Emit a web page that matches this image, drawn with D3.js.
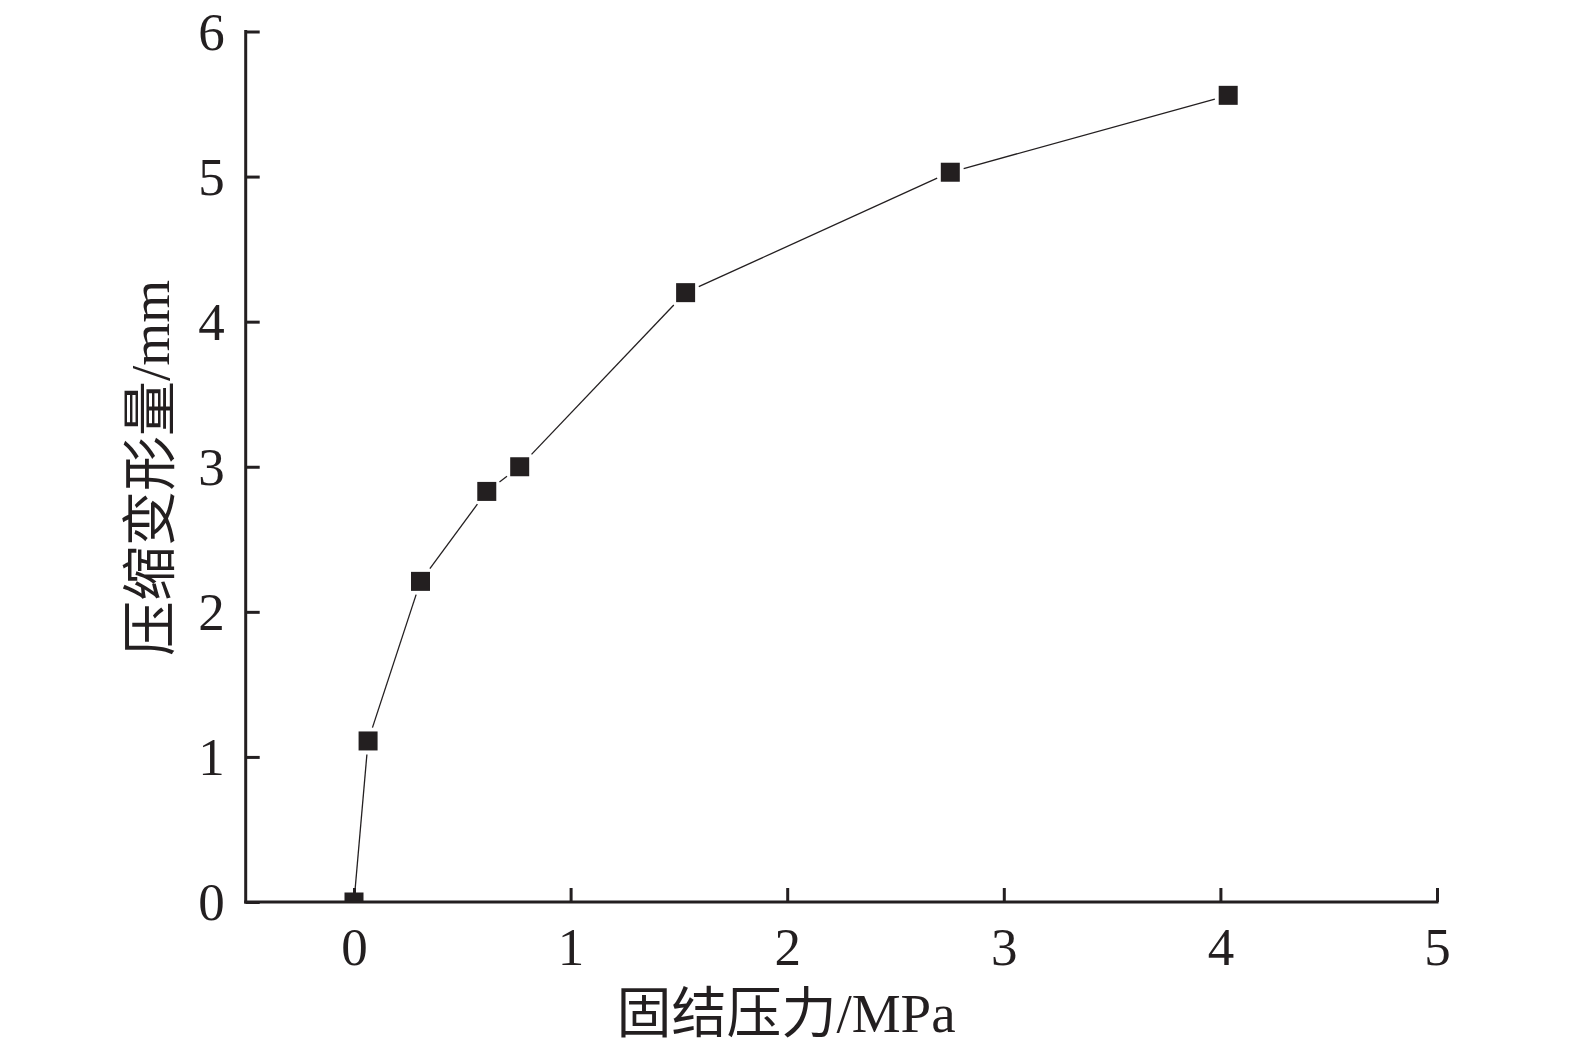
<!DOCTYPE html>
<html><head><meta charset="utf-8">
<script src="https://cdn.jsdelivr.net/npm/d3@7/dist/d3.min.js"></script>
<style>
html,body{margin:0;padding:0;background:#fff;}
svg{display:block;}
text{font-family:"Liberation Serif","Times New Roman","Noto Sans CJK SC",serif;fill:#231f20;}
</style></head>
<body>
<svg id="chart" width="1575" height="1050"></svg>
<script>
const pressure = [0, 0.065, 0.307, 0.613, 0.765, 1.531, 2.753, 4.036];
const deformation = [0, 1.11, 2.21, 2.83, 3.0, 4.2, 5.03, 5.56];
const xTicks = [0, 1, 2, 3, 4, 5];
const yTicks = [0, 1, 2, 3, 4, 5, 6];
const xTitle = "固结压力/MPa";
const yTitle = "压缩变形量/mm";

const ink = "#231f20";
const svg = d3.select("#chart");
const x = d3.scaleLinear().domain([-0.5, 5]).range([245.7, 1437]);
const y = d3.scaleLinear().domain([0, 6]).range([902, 31.5]);

// clip for plot area
svg.append("defs").append("clipPath").attr("id","plot")
  .append("rect").attr("x", x(-0.5)).attr("y", 0)
  .attr("width", x(5) - x(-0.5) + 20).attr("height", y(0));

const pts = pressure.map((p,i)=>({x:x(p), y:y(deformation[i])}));
const half = 9.5, gap = 4;
const g = svg.append("g").attr("clip-path","url(#plot)");
for (let i=0;i<pts.length-1;i++){
  const a=pts[i], b=pts[i+1];
  const dx=b.x-a.x, dy=b.y-a.y, L=Math.hypot(dx,dy);
  const ux=dx/L, uy=dy/L;
  const t = half/Math.max(Math.abs(ux),Math.abs(uy)) + gap;
  g.append("line")
    .attr("x1", a.x+ux*t).attr("y1", a.y+uy*t)
    .attr("x2", b.x-ux*t).attr("y2", b.y-uy*t)
    .attr("stroke", ink).attr("stroke-width", 1.3);
}
g.selectAll("rect.m").data(pts).enter().append("rect")
  .attr("class","m")
  .attr("x", d=>d.x-half).attr("y", d=>d.y-half)
  .attr("width", half*2).attr("height", half*2)
  .attr("fill", ink);

// axes
const xAxis = d3.axisBottom(x).tickValues(xTicks).tickSizeInner(-14).tickSizeOuter(0).tickFormat(d3.format("d"));
const yAxis = d3.axisLeft(y).tickValues(yTicks).tickSizeInner(-14).tickSizeOuter(0).tickFormat(d3.format("d"));

const gx = svg.append("g").attr("transform",`translate(0,${y(0)})`).call(xAxis);
const gy = svg.append("g").attr("transform",`translate(${x(-0.5)},0)`).call(yAxis);

[gx, gy].forEach(gg=>{
  gg.select(".domain").attr("stroke", ink).attr("stroke-width", 3);
  gg.selectAll(".tick line").attr("stroke", ink).attr("stroke-width", 3);
  gg.selectAll(".tick text").attr("fill", ink).style("font-size","53px")
    .style("font-family",'"Liberation Serif","Times New Roman",serif');
});
// extend domain lines so corners meet
gx.select(".domain").attr("d", `M${x(-0.5)-1.5},0H${x(5)+1.5}`);
gy.select(".domain").attr("d", `M0,${y(6)-1.5}V${y(0)+1.5}`);

gx.selectAll(".tick text").attr("y", 25).attr("dy", "0.71em");
gy.selectAll(".tick text").attr("x", -21).attr("dy", "0.33em");

svg.append("text")
  .attr("x", 786).attr("y", 1032)
  .attr("text-anchor","middle")
  .style("font-size","55px")
  .text(xTitle);

svg.append("text")
  .attr("transform","translate(169,468) rotate(-90)")
  .attr("text-anchor","middle")
  .style("font-size","55px")
  .text(yTitle);
</script>
</body></html>
